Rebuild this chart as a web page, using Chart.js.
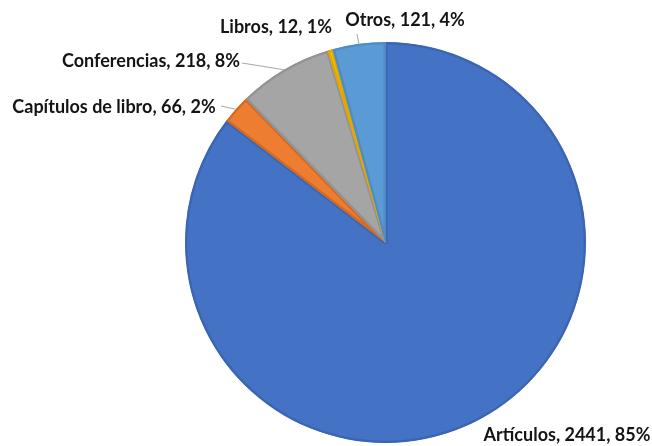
<!DOCTYPE html>
<html><head><meta charset="utf-8">
<script src="https://cdn.jsdelivr.net/npm/chart.js@4/dist/chart.umd.min.js"></script>
<style>html,body{margin:0;padding:0;background:#fff}#wrap{width:652px;height:446px}</style>
</head><body><div id="wrap"><canvas id="c" width="652" height="446"></canvas></div>
<script>
const categories = ["Artículos", "Capítulos de libro", "Conferencias", "Libros", "Otros"];
const values = [2441, 66, 218, 12, 121];
const percentLabels = ["85%", "2%", "8%", "1%", "4%"];

const fillColors = ["#4472C4", "#ED7D31", "#A5A5A5", "#FFC000", "#5B9BD5"];
const edgeColors = ["#3B65B2", "#D46A22", "#939393", "#E0A800", "#4F8CC4"];
// label layout (center of text) and optional leader start
const labelLayout = [
  {x: 567, y: 435, lead: null},
  {x: 114, y: 107, lead: [221, 106]},
  {x: 151, y: 61, lead: [242, 63]},
  {x: 276, y: 27, lead: null},
  {x: 405, y: 20, lead: [357, 34]}
];

const labelPlugin = {
  id: 'pieLabels',
  afterDraw(chart) {
    const ctx = chart.ctx;
    const meta = chart.getDatasetMeta(0);
    ctx.save();
    meta.data.forEach((arc, i) => {
      const p = arc.getProps(['x','y','startAngle','endAngle','outerRadius'], true);
      const mid = (p.startAngle + p.endAngle) / 2;
      const ax = p.x + Math.cos(mid) * p.outerRadius;
      const ay = p.y + Math.sin(mid) * p.outerRadius;
      const L = labelLayout[i];
      if (L.lead) {
        ctx.strokeStyle = '#A6A6A6';
        ctx.lineWidth = 1;
        ctx.beginPath();
        ctx.moveTo(L.lead[0], L.lead[1]);
        ctx.lineTo(ax, ay);
        ctx.stroke();
      }
      ctx.fillStyle = '#141414';
      ctx.font = 'bold 18px Lato, "Open Sans", sans-serif';
      ctx.textAlign = 'center';
      ctx.textBaseline = 'middle';
      ctx.fillText(categories[i] + ', ' + values[i] + ', ' + percentLabels[i], L.x, L.y);
    });
    ctx.restore();
  }
};

new Chart(document.getElementById('c'), {
  type: 'pie',
  data: {
    labels: categories,
    datasets: [{
      data: values,
      backgroundColor: fillColors,
      borderColor: edgeColors,
      borderWidth: 2,
      borderAlign: 'inner'
    }]
  },
  options: {
    responsive: false,
    animation: false,
    layout: {padding: {left: 185, right: 66, top: 42, bottom: 3}},
    plugins: {legend: {display: false}, tooltip: {enabled: false}}
  },
  plugins: [labelPlugin]
});
</script></body></html>
